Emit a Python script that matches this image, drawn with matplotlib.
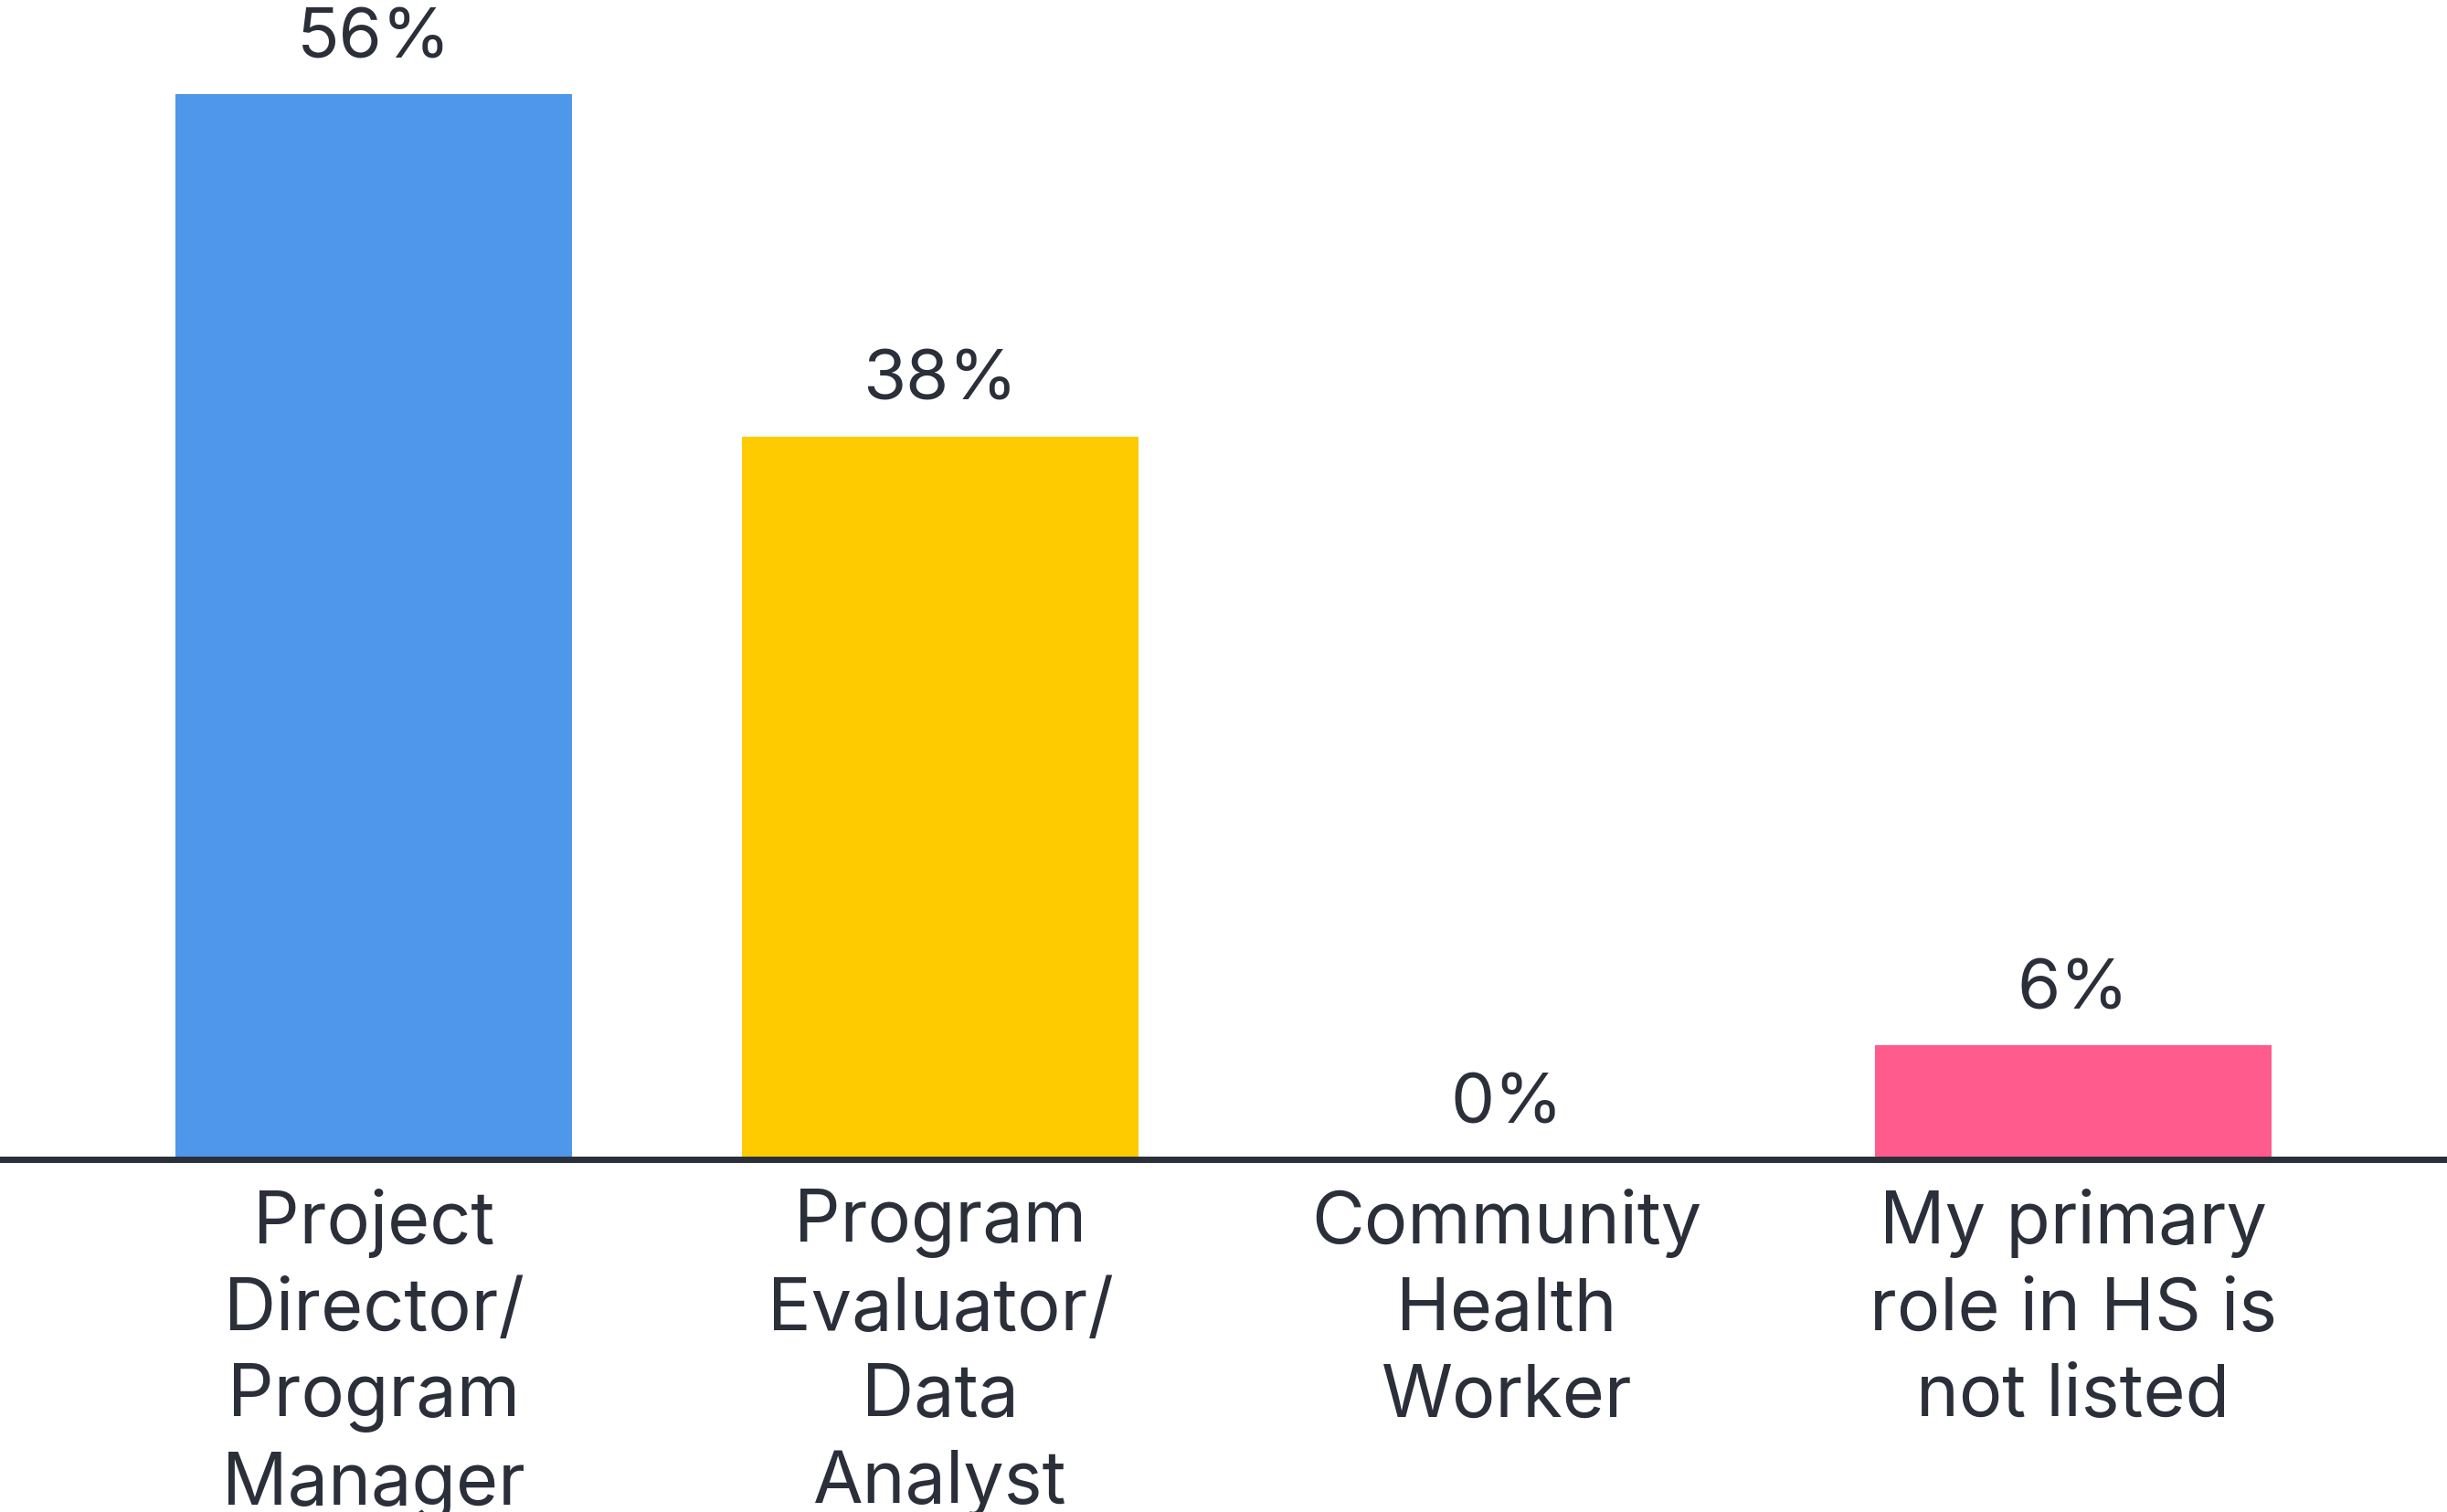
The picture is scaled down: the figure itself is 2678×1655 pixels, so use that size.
import numpy as np
import matplotlib
matplotlib.use('Agg')
import matplotlib.pyplot as plt

# data
roles = ['Project\nDirector/\nProgram\nManager',
         'Program\nEvaluator/\nData\nAnalyst',
         'Community\nHealth\nWorker',
         'My primary\nrole in HS is\nnot listed']
share = [56, 38, 0, 6]
bar_colors = ['#4F97EB', '#FDCB00', '#4F97EB', '#FF5C8D']

ink = '#2B2F3A'
plt.rcParams['font.family'] = ['Inter', 'DejaVu Sans']

fig = plt.figure(figsize=(26.78, 16.56), dpi=100)
ax = fig.add_axes([0.0, 0.233, 1.0, 0.767])

x = np.arange(len(roles))
bars = ax.bar(x, share, width=0.7, color=bar_colors, zorder=2)

for xi, v in zip(x, share):
    ax.annotate('%d%%' % v, (xi, v), xytext=(0, 18), textcoords='offset points',
                ha='center', va='bottom', fontsize=55, color=ink)

ax.set_xlim(-0.66, 3.66)
ax.set_ylim(0, 61.0)
ax.set_xticks(x)
ax.set_xticklabels(roles, fontsize=57, color=ink, linespacing=1.36)
ax.tick_params(axis='x', length=0, pad=22)
ax.set_yticks([])

for s in ['top', 'right', 'left']:
    ax.spines[s].set_visible(False)
ax.spines['bottom'].set_color(ink)
ax.spines['bottom'].set_linewidth(5)
ax.spines['bottom'].set_zorder(3)

fig.savefig('out.png', dpi=100, facecolor='white')
